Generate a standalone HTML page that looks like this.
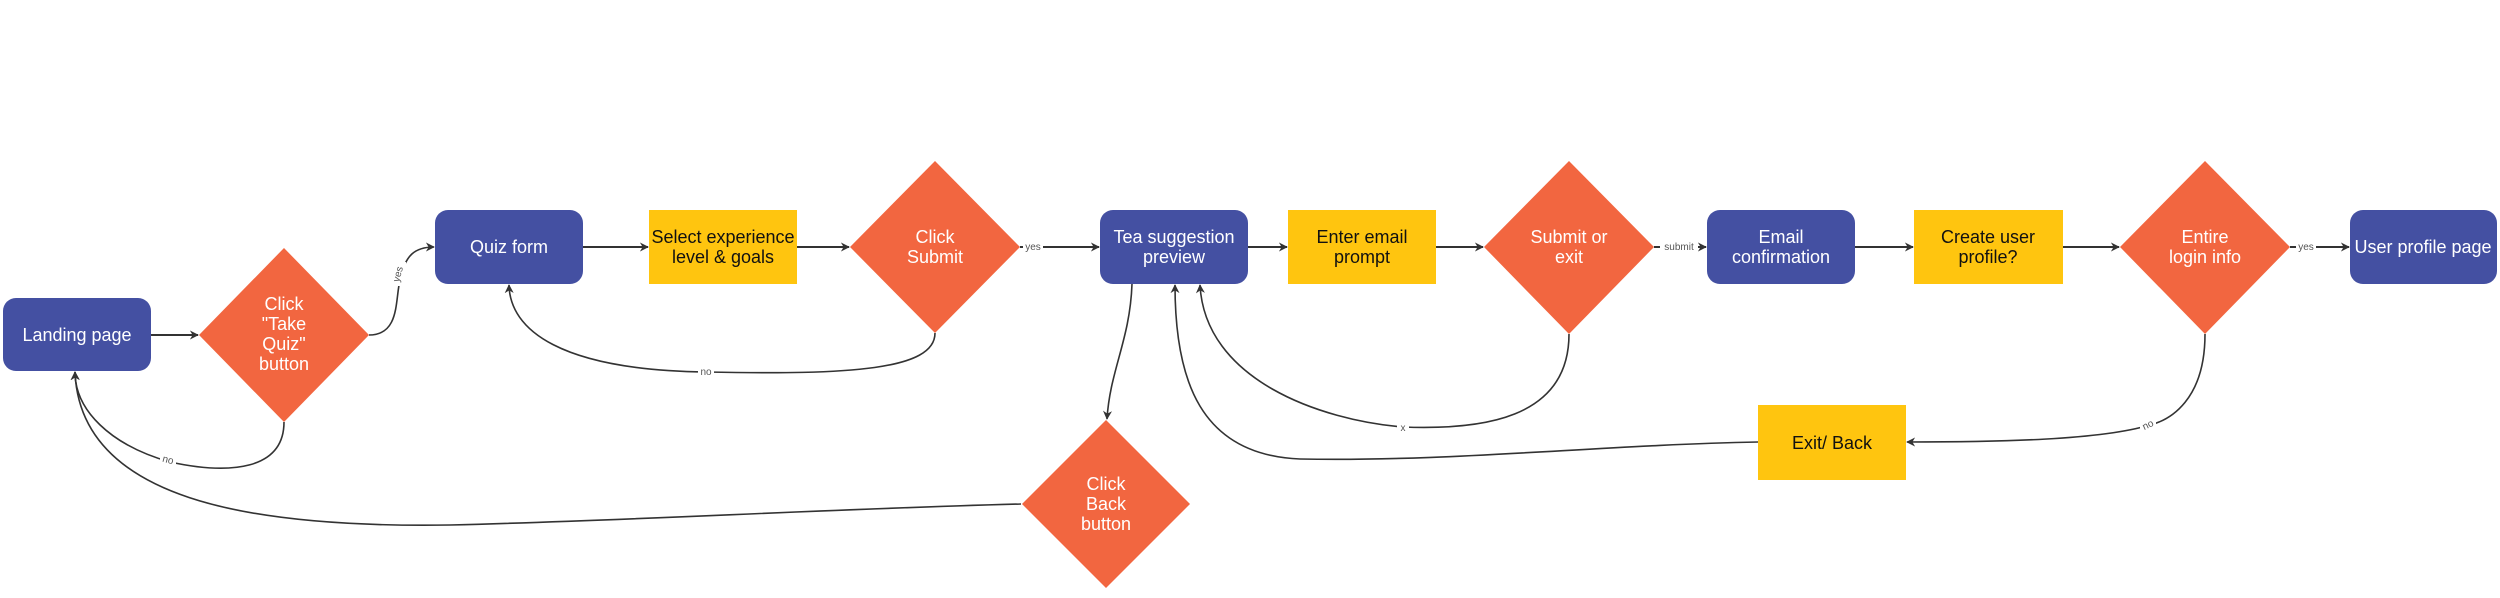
<!DOCTYPE html>
<html><head><meta charset="utf-8"><style>
html,body{margin:0;padding:0;background:#fff;}
svg{display:block;}
text{font-family:"Liberation Sans",Arial,sans-serif;}
.w{fill:#fff;font-size:18px;text-anchor:middle;}
.k{fill:#111;font-size:18px;text-anchor:middle;}
.l{fill:#555;font-size:10px;text-anchor:middle;}
.c{fill:none;stroke:#333;stroke-width:1.6;}
.s{fill:none;stroke:#333;stroke-width:2;}
</style></head><body>
<svg width="2500" height="598" viewBox="0 0 2500 598" xmlns="http://www.w3.org/2000/svg">
<defs>
<marker id="a" viewBox="0 0 10 10" refX="9" refY="5" markerWidth="9" markerHeight="9" orient="auto" markerUnits="userSpaceOnUse">
<path d="M0,0 L10,5 L0,10 L3,5 Z" fill="#333"/></marker>
</defs>

<!-- straight connectors -->
<line class="s" x1="151" y1="335" x2="198" y2="335" marker-end="url(#a)"/>
<line class="s" x1="583" y1="247" x2="648" y2="247" marker-end="url(#a)"/>
<line class="s" x1="797" y1="247" x2="849" y2="247" marker-end="url(#a)"/>
<line class="s" x1="1020" y1="247" x2="1099" y2="247" marker-end="url(#a)"/>
<line class="s" x1="1248" y1="247" x2="1287" y2="247" marker-end="url(#a)"/>
<line class="s" x1="1436" y1="247" x2="1483" y2="247" marker-end="url(#a)"/>
<line class="s" x1="1654" y1="247" x2="1706" y2="247" marker-end="url(#a)"/>
<line class="s" x1="1855" y1="247" x2="1913" y2="247" marker-end="url(#a)"/>
<line class="s" x1="2063" y1="247" x2="2119" y2="247" marker-end="url(#a)"/>
<line class="s" x1="2290" y1="247" x2="2349" y2="247" marker-end="url(#a)"/>

<!-- curves -->
<path class="c" d="M369,335 C400,335 395,300 400,280 C405,255 415,247 434,247" marker-end="url(#a)"/>
<path class="c" d="M284,422 C284,470 230,475 170,462 C110,445 75,410 75,372" marker-end="url(#a)"/>
<path class="c" d="M1021,504 C800,510 650,520 450,525 C250,528 80,500 75,372" marker-end="url(#a)"/>
<path class="c" d="M935,333 C935,370 850,375 706,372 C560,370 510,330 509,285" marker-end="url(#a)"/>
<path class="c" d="M1569,334 C1569,420 1480,430 1403,427 C1320,420 1205,380 1200,285" marker-end="url(#a)"/>
<path class="c" d="M1758,442 C1600,445 1450,462 1300,459 C1200,455 1175,380 1175,285" marker-end="url(#a)"/>
<path class="c" d="M1132,284 C1130,340 1110,370 1107,419" marker-end="url(#a)"/>
<path class="c" d="M2205,334 C2205,400 2170,420 2150,425 C2100,440 2000,442 1907,442" marker-end="url(#a)"/>

<!-- labels -->
<rect x="392" y="262" width="14" height="24" fill="#fff"/>
<text class="l" transform="translate(401,275) rotate(-75)">yes</text>
<rect x="160" y="454" width="16" height="12" fill="#fff"/>
<text class="l" x="168" y="463" transform="rotate(15,168,460)">no</text>
<rect x="698" y="366" width="16" height="12" fill="#fff"/>
<text class="l" x="706" y="375">no</text>
<rect x="1023" y="241" width="20" height="12" fill="#fff"/>
<text class="l" x="1033" y="250">yes</text>
<rect x="1660" y="241" width="38" height="12" fill="#fff"/>
<text class="l" x="1679" y="250">submit</text>
<rect x="1397" y="421" width="12" height="12" fill="#fff"/>
<text class="l" x="1403" y="431">x</text>
<rect x="2296" y="241" width="20" height="12" fill="#fff"/>
<text class="l" x="2306" y="250">yes</text>
<rect x="2140" y="418" width="16" height="14" fill="#fff"/>
<text class="l" x="2148" y="428" transform="rotate(-25,2148,425)">no</text>

<!-- blue rounded boxes -->
<g fill="#4450A2">
<rect x="3" y="298" width="148" height="73" rx="13"/>
<rect x="435" y="210" width="148" height="74" rx="13"/>
<rect x="1100" y="210" width="148" height="74" rx="13"/>
<rect x="1707" y="210" width="148" height="74" rx="13"/>
<rect x="2350" y="210" width="147" height="74" rx="13"/>
</g>
<!-- yellow boxes -->
<g fill="#FFC50F">
<rect x="649" y="210" width="148" height="74"/>
<rect x="1288" y="210" width="148" height="74"/>
<rect x="1914" y="210" width="149" height="74"/>
<rect x="1758" y="405" width="148" height="75"/>
</g>
<!-- diamonds -->
<g fill="#F26640">
<polygon points="284,248 369,335 284,422 199,335"/>
<polygon points="935,161 1020,247 935,333 850,247"/>
<polygon points="1569,161 1654,247 1569,334 1484,247"/>
<polygon points="2205,161 2290,247 2205,334 2120,247"/>
<polygon points="1106,420 1190,504 1106,588 1022,504"/>
</g>

<!-- texts -->
<text class="w" x="77" y="341">Landing page</text>
<text class="w" x="284" y="310">Click</text>
<text class="w" x="284" y="330">"Take</text>
<text class="w" x="284" y="350">Quiz"</text>
<text class="w" x="284" y="370">button</text>
<text class="w" x="509" y="253">Quiz form</text>
<text class="k" x="723" y="243">Select experience</text>
<text class="k" x="723" y="263">level &amp; goals</text>
<text class="w" x="935" y="243">Click</text>
<text class="w" x="935" y="263">Submit</text>
<text class="w" x="1174" y="243">Tea suggestion</text>
<text class="w" x="1174" y="263">preview</text>
<text class="k" x="1362" y="243">Enter email</text>
<text class="k" x="1362" y="263">prompt</text>
<text class="w" x="1569" y="243">Submit or</text>
<text class="w" x="1569" y="263">exit</text>
<text class="w" x="1781" y="243">Email</text>
<text class="w" x="1781" y="263">confirmation</text>
<text class="k" x="1988" y="243">Create user</text>
<text class="k" x="1988" y="263">profile?</text>
<text class="w" x="2205" y="243">Entire</text>
<text class="w" x="2205" y="263">login info</text>
<text class="w" x="2423" y="253">User profile page</text>
<text class="w" x="1106" y="490">Click</text>
<text class="w" x="1106" y="510">Back</text>
<text class="w" x="1106" y="530">button</text>
<text class="k" x="1832" y="449">Exit/ Back</text>
</svg>
</body></html>
